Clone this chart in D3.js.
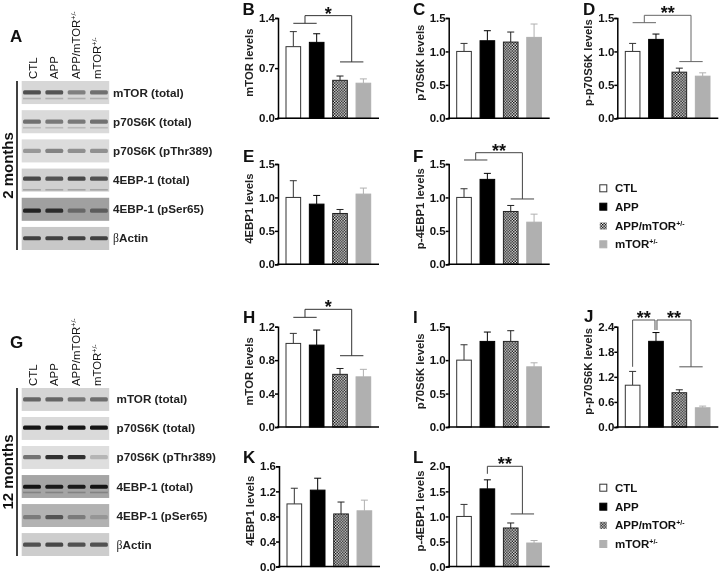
<!DOCTYPE html>
<html>
<head>
<meta charset="utf-8">
<script src="https://d3js.org/d3.v7.min.js"></script>
<style>
  body { margin: 0; background: #fff; }
  svg { filter: blur(0.35px); }
  text { font-family: "Liberation Sans", Arial, sans-serif; fill: #111; }
  .tick text { font-size: 11.5px; font-weight: bold; }
  .ylab { font-size: 11.3px; font-weight: bold; fill: #222; }
  .letter { font-size: 17px; font-weight: bold; }
  .rowlab { font-size: 11.7px; font-weight: bold; fill: #222; }
  .lanelab { font-size: 11.4px; fill: #111; }
  .age { font-size: 15px; font-weight: bold; }
  .leg { font-size: 11.5px; font-weight: bold; }
</style>
</head>
<body>
<div id="chart"></div>
<script>
// groups and bar values
var groups = ["CTL", "APP", "APP/mTOR", "mTOR"];

var mtorB = [1.0, 1.06, 0.53, 0.49];
var mtorBErr = [1.21, 1.18, 0.59, 0.55];
var p70C = [1.0, 1.16, 1.14, 1.21];
var p70CErr = [1.12, 1.31, 1.29, 1.41];
var pp70D = [1.0, 1.18, 0.69, 0.63];
var pp70DErr = [1.12, 1.26, 0.75, 0.68];
var ebpE = [1.0, 0.9, 0.76, 1.05];
var ebpEErr = [1.25, 1.03, 0.82, 1.14];
var pebpF = [1.0, 1.27, 0.79, 0.63];
var pebpFErr = [1.13, 1.36, 0.88, 0.75];
var mtorH = [1.0, 0.98, 0.63, 0.6];
var mtorHErr = [1.12, 1.16, 0.7, 0.69];
var p70I = [1.0, 1.28, 1.28, 0.9];
var p70IErr = [1.23, 1.42, 1.44, 0.96];
var pp70J = [1.0, 2.05, 0.82, 0.46];
var pp70JErr = [1.33, 2.26, 0.89, 0.5];
var ebpK = [1.0, 1.22, 0.84, 0.89];
var ebpKErr = [1.25, 1.41, 1.03, 1.06];
var pebpL = [1.0, 1.55, 0.77, 0.47];
var pebpLErr = [1.24, 1.73, 0.87, 0.52];

// tick labels
var ticks14 = [0, 0.7, 1.4];
var ticks15 = [0, 0.5, 1.0, 1.5];
var ticks12 = [0, 0.4, 0.8, 1.2];
var ticks24 = [0, 0.6, 1.2, 1.8, 2.4];
var ticks16 = [0, 0.4, 0.8, 1.2, 1.6];
var ticks20 = [0, 0.5, 1.0, 1.5, 2.0];

// blot rows and band strengths per lane (0 = nothing, 1 = black)
var blotRows = ["mTOR (total)", "p70S6K (total)", "p70S6K (pThr389)", "4EBP-1 (total)", "4EBP-1 (pSer65)", "Actin"];
var blot2mBg = [215, 218, 220, 208, 160, 200];
var blot2mMain = [[0.62, 0.6, 0.4, 0.48], [0.48, 0.44, 0.44, 0.48], [0.3, 0.4, 0.34, 0.34], [0.65, 0.6, 0.65, 0.6], [0.78, 0.72, 0.35, 0.42], [0.68, 0.68, 0.68, 0.68]];
var blot2mSecond = [0.18, 0.14, 0, 0.2, 0, 0];
var blot2mPos = [0.49, 0.5, 0.5, 0.44, 0.56, 0.49];
var blot12mBg = [212, 218, 222, 165, 178, 205];
var blot12mMain = [[0.52, 0.52, 0.44, 0.48], [0.9, 0.9, 0.9, 0.9], [0.48, 0.78, 0.78, 0.18], [0.88, 0.84, 0.84, 0.88], [0.3, 0.52, 0.3, 0.15], [0.6, 0.65, 0.6, 0.6]];
var blot12mSecond = [0, 0, 0, 0.2, 0, 0];
var blot12mPos = [0.5, 0.46, 0.48, 0.51, 0.57, 0.5];

var svg = d3.select("#chart")
  .append("svg")
  .attr("width", 720)
  .attr("height", 572);

var defs = svg.append("defs");

// checker fill of the APP/mTOR bars
var pat = defs.append("pattern")
  .attr("id", "checks")
  .attr("width", 2.8)
  .attr("height", 2.8)
  .attr("patternUnits", "userSpaceOnUse");
pat.append("rect").attr("width", 2.8).attr("height", 2.8).attr("fill", "#f4f4f4");
pat.append("rect").attr("width", 1.4).attr("height", 1.4).attr("fill", "#000");
pat.append("rect").attr("x", 1.4).attr("y", 1.4).attr("width", 1.4).attr("height", 1.4).attr("fill", "#000");

defs.append("filter")
  .attr("id", "soft")
  .attr("x", "-20%").attr("y", "-100%").attr("width", "140%").attr("height", "300%")
  .append("feGaussianBlur")
  .attr("stdDeviation", 0.7);

var panelW = 101;
var panelH = 100.3;

var barFill = ["#fff", "#000", "url(#checks)", "#b0b0b0"];
var barStroke = ["#333", "#000", "#222", "#b0b0b0"];

var x = d3.scaleBand()
  .domain(groups)
  .range([7.5, 93.2])
  .paddingInner(0.33);

function barCenter(i) {
  return x(groups[i]) + x.bandwidth() / 2;
}

function drawPanel(p) {
  var g = svg.append("g")
    .attr("transform", `translate(${p.left}, ${p.top})`);

  var y = d3.scaleLinear()
    .domain([0, p.max])
    .range([panelH, 0]);

  // error bars go up only
  p.err.forEach(function(e, i) {
    g.append("line")
      .attr("x1", barCenter(i)).attr("x2", barCenter(i))
      .attr("y1", y(p.values[i])).attr("y2", y(e))
      .attr("stroke", barStroke[i]).attr("stroke-width", 1);
    g.append("line")
      .attr("x1", barCenter(i) - 3.5).attr("x2", barCenter(i) + 3.5)
      .attr("y1", y(e)).attr("y2", y(e))
      .attr("stroke", barStroke[i]).attr("stroke-width", 1);
  });

  g.selectAll(".bar")
    .data(p.values)
    .enter()
    .append("rect")
    .attr("class", "bar")
    .attr("x", (d, i) => x(groups[i]) + 0.5)
    .attr("y", d => y(d))
    .attr("width", x.bandwidth() - 1)
    .attr("height", d => panelH - y(d))
    .attr("fill", (d, i) => barFill[i])
    .attr("stroke", (d, i) => barStroke[i])
    .attr("stroke-width", 1);

  var yAxis = d3.axisLeft(y)
    .tickValues(p.ticks)
    .tickFormat(d3.format(".1f"))
    .tickSize(3)
    .tickPadding(0);

  var axisG = g.append("g").call(yAxis);
  axisG.selectAll("path, line").attr("stroke", "#000").attr("stroke-width", 1.5);

  g.append("line")
    .attr("x1", -1).attr("x2", panelW)
    .attr("y1", panelH).attr("y2", panelH)
    .attr("stroke", "#000").attr("stroke-width", 1.5);

  g.append("text")
    .attr("class", "ylab")
    .attr("transform", `translate(-25, ${panelH / 2 - 5.5}) rotate(-90)`)
    .attr("text-anchor", "middle")
    .text(p.label);

  svg.append("text")
    .attr("class", "letter")
    .attr("x", p.letterX)
    .attr("y", p.letterY)
    .text(p.letter);

  (p.brackets || []).forEach(function(b) {
    drawBracket(g, y, b);
  });
}

// significance bracket between two groups of bars
function drawBracket(g, y, b) {
  var ax = d3.mean(b.a, barCenter) + (b.aShift || 0);
  var bx = d3.mean(b.b, barCenter) + (b.bShift || 0);
  var col = b.color || "#333";

  g.append("path")
    .attr("d", `M${ax},${y(b.aLevel)}V${y(b.top)}H${bx}V${y(b.bLevel)}`)
    .attr("fill", "none").attr("stroke", col).attr("stroke-width", 1);

  if (b.a.length > 1) {
    g.append("line")
      .attr("x1", barCenter(b.a[0])).attr("x2", barCenter(b.a[1]))
      .attr("y1", y(b.aLevel)).attr("y2", y(b.aLevel))
      .attr("stroke", col).attr("stroke-width", 1);
  }
  if (b.b.length > 1) {
    g.append("line")
      .attr("x1", barCenter(b.b[0])).attr("x2", barCenter(b.b[1]))
      .attr("y1", y(b.bLevel)).attr("y2", y(b.bLevel))
      .attr("stroke", col).attr("stroke-width", 1);
  }

  g.append("text")
    .attr("x", (ax + bx) / 2)
    .attr("y", y(b.top) + 4)
    .attr("text-anchor", "middle")
    .attr("font-size", 18)
    .attr("font-weight", "bold")
    .text(b.stars);
}

var col1 = 278, col2 = 448.7, col3 = 617.3;
var row1 = 18, row2 = 164, row3 = 326.7, row4 = 466.3;

drawPanel({ letter: "B", letterX: 242.5, letterY: 15, left: col1, top: row1, max: 1.4, ticks: ticks14, values: mtorB, err: mtorBErr, label: "mTOR levels",
  brackets: [{ a: [0, 1], aLevel: 1.326, b: [2, 3], bLevel: 0.787, top: 1.433, stars: "*" }] });
drawPanel({ letter: "C", letterX: 413, letterY: 15, left: col2, top: row1, max: 1.5, ticks: ticks15, values: p70C, err: p70CErr, label: "p70S6K levels" });
drawPanel({ letter: "D", letterX: 583, letterY: 15, left: col3, top: row1, max: 1.5, ticks: ticks15, values: pp70D, err: pp70DErr, label: "p-p70S6K levels",
  brackets: [{ a: [0, 1], aLevel: 1.43, b: [2, 3], bLevel: 0.848, top: 1.54, stars: "**", color: "#666" }] });
drawPanel({ letter: "E", letterX: 243, letterY: 162, left: col1, top: row2, max: 1.5, ticks: ticks15, values: ebpE, err: ebpEErr, label: "4EBP1 levels" });
drawPanel({ letter: "F", letterX: 413, letterY: 162, left: col2, top: row2, max: 1.5, ticks: ticks15, values: pebpF, err: pebpFErr, label: "p-4EBP1 levels",
  brackets: [{ a: [0, 1], aLevel: 1.56, b: [2, 3], bLevel: 0.977, top: 1.669, stars: "**", color: "#444" }] });
drawPanel({ letter: "H", letterX: 243, letterY: 322.5, left: col1, top: row3, max: 1.2, ticks: ticks12, values: mtorH, err: mtorHErr, label: "mTOR levels",
  brackets: [{ a: [0, 1], aLevel: 1.312, b: [2, 3], bLevel: 0.853, top: 1.408, stars: "*" }] });
drawPanel({ letter: "I", letterX: 413, letterY: 322.5, left: col2, top: row3, max: 1.5, ticks: ticks15, values: p70I, err: p70IErr, label: "p70S6K levels" });
drawPanel({ letter: "J", letterX: 584, letterY: 322, left: col3, top: row3, max: 2.4, ticks: ticks24, values: pp70J, err: pp70JErr, label: "p-p70S6K levels",
  brackets: [
    { a: [0], aLevel: 1.44, b: [1], bLevel: 2.32, bShift: -1, top: 2.56, stars: "**", color: "#555" },
    { a: [1], aLevel: 2.32, aShift: 1, b: [2, 3], bLevel: 1.44, top: 2.56, stars: "**", color: "#555" }
  ] });
drawPanel({ letter: "K", letterX: 243, letterY: 463, left: col1 + 1, top: row4, max: 1.6, ticks: ticks16, values: ebpK, err: ebpKErr, label: "4EBP1 levels" });
drawPanel({ letter: "L", letterX: 413, letterY: 463, left: col2, top: row4, max: 2.0, ticks: ticks20, values: pebpL, err: pebpLErr, label: "p-4EBP1 levels",
  brackets: [{ a: [1], aLevel: 1.85, b: [2, 3], bLevel: 1.05, top: 2.0, stars: "**", color: "#444" }] });

// Western blot strips
function drawBlot(b) {
  var lane = d3.scaleBand().domain(groups).range([b.left, b.left + 87.5]).paddingInner(0.2).paddingOuter(0.06);
  var rowScale = d3.scaleBand().domain(blotRows).range([b.top, b.bottom]).paddingInner(0.21);

  blotRows.forEach(function(name, r) {
    var ry = rowScale(name);
    var rh = rowScale.bandwidth();
    var bg = b.bg[r];

    svg.append("rect")
      .attr("x", b.left).attr("y", ry)
      .attr("width", 87.5).attr("height", rh)
      .attr("fill", d3.rgb(bg, bg, bg));

    groups.forEach(function(gr, i) {
      svg.append("rect")
        .attr("x", lane(gr))
        .attr("y", ry + rh * b.pos[r] - 2.1)
        .attr("width", lane.bandwidth())
        .attr("height", 4.2)
        .attr("rx", 1.5)
        .attr("fill", "#000")
        .attr("opacity", b.main[r][i])
        .attr("filter", "url(#soft)");
      if (b.second[r] > 0) {
        svg.append("rect")
          .attr("x", lane(gr))
          .attr("y", ry + rh * (b.pos[r] > 0.47 ? 0.76 : 0.92) - 0.8)
          .attr("width", lane.bandwidth())
          .attr("height", 1.6)
          .attr("fill", "#000")
          .attr("opacity", b.second[r])
          .attr("filter", "url(#soft)");
      }
    });

    var t = svg.append("text")
      .attr("class", "rowlab")
      .attr("x", b.labelX)
      .attr("y", ry + rh / 2 + 4);
    if (name === "Actin") {
      t.append("tspan").attr("font-family", "Liberation Serif").attr("font-weight", "normal").text("β");
    }
    t.append("tspan").text(name);
  });

  svg.append("line")
    .attr("x1", 17).attr("x2", 17)
    .attr("y1", b.top).attr("y2", b.bottom)
    .attr("stroke", "#000").attr("stroke-width", 1.5);

  svg.append("text")
    .attr("class", "age")
    .attr("transform", `translate(12.5, ${(b.top + b.bottom) / 2}) rotate(-90)`)
    .attr("text-anchor", "middle")
    .text(b.age);

  svg.append("text")
    .attr("class", "letter")
    .attr("x", 10)
    .attr("y", b.letterY)
    .text(b.letter);

  groups.forEach(function(gr, i) {
    var t = svg.append("text")
      .attr("class", "lanelab")
      .attr("transform", `translate(${b.laneX[i]}, ${b.top - 2}) rotate(-90)`);
    t.append("tspan").text(gr);
    if (i >= 2) {
      t.append("tspan").attr("font-size", 7).attr("dy", -4).text("+/-");
    }
  });
}

drawBlot({ left: 21.7, top: 81, bottom: 250, bg: blot2mBg, main: blot2mMain, second: blot2mSecond, pos: blot2mPos, labelX: 113, age: "2 months", letter: "A", letterY: 42, laneX: [37, 58, 80, 101] });
drawBlot({ left: 21.7, top: 388, bottom: 556, bg: blot12mBg, main: blot12mMain, second: blot12mSecond, pos: blot12mPos, labelX: 116.5, age: "12 months", letter: "G", letterY: 348, laneX: [37, 58, 80, 101] });

// Legends
function drawLegend(ys) {
  groups.forEach(function(gr, i) {
    svg.append("rect")
      .attr("x", 599.8).attr("y", ys[i] - 3.5)
      .attr("width", 7).attr("height", 7)
      .attr("fill", barFill[i])
      .attr("stroke", i === 2 ? "none" : barStroke[i])
      .attr("stroke-width", 1);
    var t = svg.append("text")
      .attr("class", "leg")
      .attr("x", 615)
      .attr("y", ys[i] + 4);
    t.append("tspan").text(gr);
    if (i >= 2) {
      t.append("tspan").attr("font-size", 7).attr("dy", -4).text("+/-");
    }
  });
}

drawLegend([188.3, 206.7, 226, 244.3]);
drawLegend([487.7, 506.7, 525.3, 544]);
</script>
</body>
</html>
